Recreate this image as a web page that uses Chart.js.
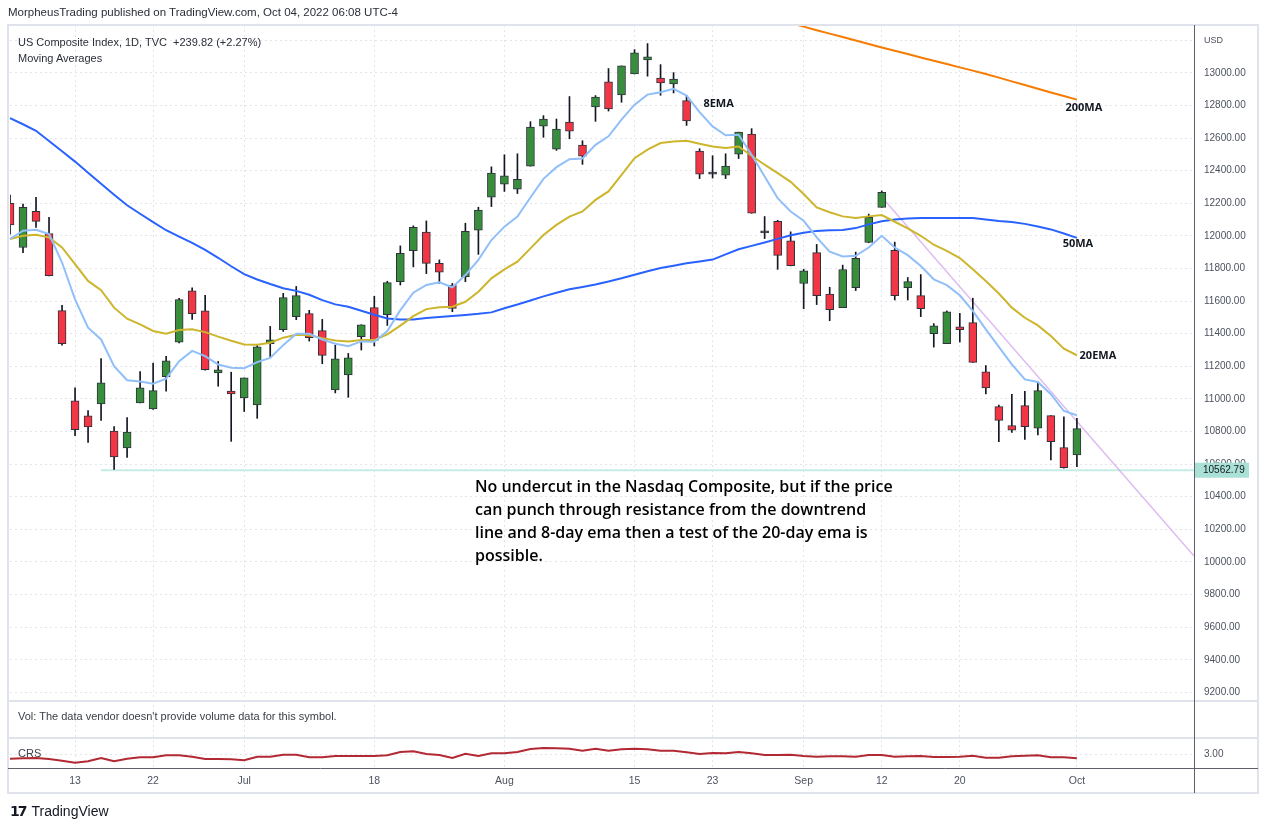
<!DOCTYPE html>
<html>
<head>
<meta charset="utf-8">
<script src="https://cdn.jsdelivr.net/npm/chart.js@4.4.1/dist/chart.umd.min.js"></script>
<style>
  html, body { margin: 0; padding: 0; background: #fff; }
  #wrap { position: relative; width: 1264px; height: 829px; overflow: hidden;
          font-family: "Liberation Sans", Arial, sans-serif; color: #131722; }
  #chart { position: absolute; left: 0; top: 0; }
  .txt { position: absolute; white-space: nowrap; font-size: 11px; line-height: 14px; }
  #published { left: 8px; top: 5px; font-size: 11.5px; color: #2a2e39; }
  #legend1 { left: 18px; top: 35px; color: #2a2e39; }
  #legend2 { left: 18px; top: 51px; color: #2a2e39; }
  #volText { left: 18px; top: 709px; color: #3d4049; }
  #crsText { left: 18px; top: 746px; color: #3d4049; }
  #note { left: 475px; top: 475px; font-family: "Open Sans", sans-serif; font-weight: 600;
          font-size: 16px; line-height: 23px; color: #000; white-space: normal; width: 450px; }
  #logo { left: 10px; top: 802px; font-size: 14px; line-height: 18px; color: #131722; }
  #logo b { font-family: "DejaVu Sans", sans-serif; font-weight: 900; letter-spacing: -2px; margin-right: 6px; }
</style>
</head>
<body>
<div id="wrap">
  <canvas id="chart" width="1264" height="829"></canvas>
  <div class="txt" id="published">MorpheusTrading published on TradingView.com, Oct 04, 2022 06:08 UTC-4</div>
  <div class="txt" id="legend1">US Composite Index, 1D, TVC&nbsp; +239.82 (+2.27%)</div>
  <div class="txt" id="legend2">Moving Averages</div>
  <div class="txt" id="volText">Vol: The data vendor doesn't provide volume data for this symbol.</div>
  <div class="txt" id="crsText">CRS</div>
  <div class="txt" id="note">No undercut in the Nasdaq Composite, but if the price<br>can punch through resistance from the downtrend<br>line and 8-day ema then a test of the 20-day ema is<br>possible.</div>
  <div class="txt" id="logo"><b>17</b>TradingView</div>
</div>
<script>
// ===== Data =====
const dates = [
  '2022-06-06','2022-06-07','2022-06-08','2022-06-09','2022-06-10','2022-06-13','2022-06-14','2022-06-15','2022-06-16','2022-06-17',
  '2022-06-21','2022-06-22','2022-06-23','2022-06-24','2022-06-27','2022-06-28','2022-06-29','2022-06-30','2022-07-01','2022-07-05',
  '2022-07-06','2022-07-07','2022-07-08','2022-07-11','2022-07-12','2022-07-13','2022-07-14','2022-07-15','2022-07-18','2022-07-19',
  '2022-07-20','2022-07-21','2022-07-22','2022-07-25','2022-07-26','2022-07-27','2022-07-28','2022-07-29','2022-08-01','2022-08-02',
  '2022-08-03','2022-08-04','2022-08-05','2022-08-08','2022-08-09','2022-08-10','2022-08-11','2022-08-12','2022-08-15','2022-08-16',
  '2022-08-17','2022-08-18','2022-08-19','2022-08-22','2022-08-23','2022-08-24','2022-08-25','2022-08-26','2022-08-29','2022-08-30',
  '2022-08-31','2022-09-01','2022-09-02','2022-09-06','2022-09-07','2022-09-08','2022-09-09','2022-09-12','2022-09-13','2022-09-14',
  '2022-09-15','2022-09-16','2022-09-19','2022-09-20','2022-09-21','2022-09-22','2022-09-23','2022-09-26','2022-09-27','2022-09-28',
  '2022-09-29','2022-09-30','2022-10-03',
  // empty space to the right of the last bar
  '2022-10-04','2022-10-05','2022-10-06','2022-10-07','2022-10-10','2022-10-11','2022-10-12','2022-10-13','2022-10-14'
];

const opens = [12200,11929,12151,12015,11542,10988,10896,10969,10803,10699,
  10976,10939,11136,11349,11664,11540,11160,11049,11006,10963,
  11339,11425,11505,11523,11419,11056,11148,11382,11560,11517,
  11719,11910,12023,11832,11697,11750,12035,12238,12318,12287,
  12428,12674,12533,12699,12557,12791,12945,12865,12994,13080,
  12969,12932,12830,12521,12379,12373,12502,12625,12019,12090,
  11970,11708,11898,11644,11560,11683,11960,12175,11911,11683,
  11634,11400,11339,11443,11468,11166,10953,10837,10959,10820,
  10898,10702,10657];
const highs = [12251,12196,12237,12114,11574,11068,10928,11248,10830,10885,
  11168,11220,11261,11617,11681,11636,11230,11164,11129,11331,
  11445,11648,11690,11544,11488,11330,11279,11455,11630,11722,
  11939,12062,12092,11853,11709,12078,12176,12424,12498,12504,
  12701,12738,12717,12855,12584,12861,13027,13043,13143,13180,
  13051,13002,12861,12535,12492,12504,12637,12658,12119,12096,
  12025,11796,11948,11685,11821,11901,12134,12276,11962,11745,
  11763,11462,11540,11525,11618,11205,10963,11029,11047,11104,
  10898,10890,10881];
const lows = [12011,11898,12052,11755,11330,10774,10734,10869,10567,10641,
  10976,10935,11047,11343,11488,11177,11078,10740,10923,10881,
  11257,11414,11486,11355,11216,11037,11010,11300,11325,11451,
  11699,11810,11769,11709,11535,11719,11887,12180,12273,12260,
  12428,12605,12525,12596,12439,12703,12766,12820,12994,12980,
  12863,12877,12678,12352,12355,12352,12475,12139,11984,11795,
  11816,11554,11579,11480,11560,11665,11958,12175,11607,11607,
  11505,11318,11339,11349,11224,11031,10738,10794,10751,10779,
  10626,10575,10585];
const closes = [12067,12175,12089,11757,11339,10811,10828,11099,10645,10797,
  11068,11051,11234,11609,11523,11179,11179,11031,11129,11320,
  11363,11622,11634,11376,11267,11246,11252,11455,11359,11714,
  11893,12053,11832,11777,11555,12029,12158,12385,12369,12348,
  12668,12717,12656,12643,12490,12852,12779,13043,13123,13098,
  12939,12963,12705,12379,12379,12428,12637,12139,12019,11881,
  11818,11786,11634,11548,11794,11862,12114,12268,11634,11720,
  11554,11449,11535,11425,11224,11068,10869,10808,10830,11051,
  10738,10579,10818];

const ema8 = [11981,12032,12038,12011,11837,11611,11437,11365,11201,11115,
  11107,11094,11125,11232,11295,11263,11211,11191,11189,11226,
  11252,11330,11400,11400,11365,11339,11324,11353,11351,11417,
  11545,11652,11699,11715,11685,11760,11853,11975,12057,12119,
  12236,12350,12422,12471,12475,12559,12611,12713,12805,12867,
  12881,12902,12861,12760,12672,12617,12621,12498,12365,12232,
  12150,12093,11991,11903,11874,11878,11929,12001,11929,11882,
  11816,11734,11698,11636,11540,11427,11320,11212,11120,11104,
  11029,10926,10900];
const ema20 = [11981,12001,12007,11991,11929,11827,11724,11667,11560,11492,
  11458,11417,11400,11423,11427,11410,11382,11357,11334,11332,
  11345,11376,11394,11390,11373,11359,11353,11361,11361,11396,
  11450,11508,11551,11562,11566,11596,11658,11740,11795,11842,
  11924,12006,12068,12119,12150,12221,12273,12375,12477,12529,
  12570,12580,12584,12566,12549,12539,12549,12492,12437,12385,
  12332,12257,12175,12145,12120,12110,12120,12128,12087,12046,
  12001,11946,11909,11864,11796,11724,11647,11560,11498,11451,
  11386,11308,11268];
const ma50 = [12723,12685,12645,12582,12519,12456,12388,12320,12253,12188,
  12136,12085,12035,11996,11957,11914,11866,11814,11766,11733,
  11705,11679,11663,11639,11606,11580,11566,11541,11517,11493,
  11487,11487,11496,11503,11509,11515,11522,11531,11556,11579,
  11604,11629,11651,11673,11687,11702,11720,11740,11762,11783,
  11803,11817,11832,11843,11855,11887,11918,11939,11960,11982,
  12004,12020,12031,12035,12037,12048,12071,12090,12101,12107,
  12110,12110,12110,12110,12110,12101,12092,12086,12074,12058,
  12040,12015,11988];
// 200MA is above the visible range before the end of August
const ma200 = Array(59).fill(null).concat([13326,13305,13284,13262,13241,13220,13199,13177,13156,13136,
  13116,13095,13075,13055,13034,13014,12993,12971,12948,12926,
  12903,12880,12858,12836]);

const crs = [2.953,2.957,2.960,2.950,2.933,2.913,2.927,2.960,2.927,2.953,
  2.967,2.967,2.987,2.987,2.973,2.950,2.950,2.947,2.937,2.973,
  2.973,2.993,2.993,2.967,2.967,2.980,2.980,2.980,2.980,2.987,
  3.020,3.027,3.000,2.990,2.960,3.003,2.980,3.007,3.007,3.020,
  3.050,3.060,3.057,3.053,3.033,3.053,3.033,3.047,3.053,3.047,
  3.033,3.033,3.017,3.000,3.010,3.007,3.020,3.007,2.990,2.990,
  2.993,2.980,2.973,2.977,2.977,2.973,2.990,2.990,2.973,2.977,
  2.980,2.970,2.970,2.973,2.983,2.963,2.963,2.977,2.983,2.987,
  2.967,2.967,2.957];

// drawn lines: downtrend line (two anchors) and horizontal support
const trendIdx = [67, 91];
const trendVal = [12239, 10037];
const supportLevel = 10562.79;
const supportStart = 7;

// axis ticks
const priceTicks = [9200,9400,9600,9800,10000,10200,10400,10600,10800,11000,11200,11400,
  11600,11800,12000,12200,12400,12600,12800,13000,13200];
const crsTicks = [3];
const tickDates = ['2022-06-13','2022-06-22','2022-07-01','2022-07-18','2022-08-01','2022-08-15',
  '2022-08-23','2022-09-01','2022-09-12','2022-09-20','2022-10-03'];
const tickTexts = ['13','22','Jul','18','Aug','15','23','Sep','12','20','Oct'];

// MA labels on the chart
const maLabelTexts = ['8EMA','200MA','50MA','20EMA'];
const maLabelIdx = [54, 82, 82, 82];
const maLabelPrices = [12810, 12785, 11951, 11264];
const maLabelShift = [6, 7, 1, 21];

// ===== Build datasets =====
const GREEN = '#388e3c', RED = '#f23645', DOJI = '#2a2e39';
const bodyColors = opens.map((o, i) => closes[i] > o ? GREEN : (closes[i] < o ? RED : DOJI));
const bodies = opens.map((o, i) => [o, closes[i]]);
const wicks = lows.map((l, i) => [l, highs[i]]);
const trendData = dates.map((d, i) => {
  const k = trendIdx.indexOf(i);
  return k >= 0 ? trendVal[k] : null;
});
const supportData = dates.map((d, i) => i >= supportStart ? supportLevel : null);

const lineDs = (data, color, extra) => Object.assign({
  type: 'line', data, borderColor: color, borderWidth: 2, pointRadius: 0,
  tension: 0, fill: false, yAxisID: 'y', order: 0
}, extra || {});

Chart.defaults.font.family = '"Liberation Sans", Arial, sans-serif';
const tickFont = { size: 10 };
const tickColor = '#4c525e';
const gridColor = '#e3e5ea';

// ===== Pane decorations =====
const paneDecor = {
  id: 'paneDecor',
  beforeDraw(chart) {
    const c = chart.ctx;
    c.save();
    c.fillStyle = '#fff';
    c.fillRect(0, 0, chart.width, chart.height);
    c.restore();
  },
  afterDraw(chart) {
    const { ctx: c, chartArea: a, scales: s } = chart;
    const frameL = a.left - 2, frameR = a.right + 64, frameB = a.bottom + 25;
    c.save();
    // separators between panes
    c.strokeStyle = '#e0e3eb';
    c.lineWidth = 2;
    [s.y.bottom, s.yVol.bottom].forEach(yy => {
      c.beginPath(); c.moveTo(frameL, yy); c.lineTo(frameR, yy); c.stroke();
    });
    c.strokeRect(frameL, a.top, frameR - frameL, frameB - a.top);
    // axis lines
    c.strokeStyle = '#5d606b';
    c.lineWidth = 1;
    c.beginPath(); c.moveTo(a.right + 0.5, a.top); c.lineTo(a.right + 0.5, frameB); c.stroke();
    c.beginPath(); c.moveTo(frameL, a.bottom + 0.5); c.lineTo(frameR, a.bottom + 0.5); c.stroke();
    // currency label
    c.fillStyle = tickColor;
    c.font = '9px "Liberation Sans", Arial, sans-serif';
    c.textBaseline = 'middle';
    c.textAlign = 'left';
    c.fillText('USD', a.right + 10, s.y.getPixelForValue(13200));
    // support price label
    const py = s.y.getPixelForValue(supportLevel);
    c.fillStyle = '#a9e1d6';
    c.fillRect(a.right + 1, py - 7.5, 54, 15);
    c.fillStyle = '#131722';
    c.font = '10px "Liberation Sans", Arial, sans-serif';
    c.fillText(supportLevel.toFixed(2), a.right + 9, py + 0.5);
    // MA labels
    c.font = 'bold 11px "Open Sans", sans-serif';
    c.textAlign = 'center';
    c.fillStyle = '#131722';
    maLabelTexts.forEach((t, i) => {
      c.fillText(t, s.x.getPixelForValue(maLabelIdx[i]) + maLabelShift[i], s.y.getPixelForValue(maLabelPrices[i]));
    });
    c.restore();
  }
};

// ===== Chart =====
const ctx = document.getElementById('chart').getContext('2d');
const chart = new Chart(ctx, {
  type: 'bar',
  data: {
    labels: dates,
    datasets: [
      lineDs(ema8, '#90bff9'),
      lineDs(ema20, '#cdb52c'),
      lineDs(ma50, '#2962ff'),
      lineDs(ma200, '#f57c00'),
      lineDs(crs, '#b22833', { yAxisID: 'yCrs' }),
      {
        type: 'bar', data: bodies, backgroundColor: bodyColors, borderColor: '#2e323c',
        borderWidth: 1, borderSkipped: false, barThickness: 8, minBarLength: 2,
        grouped: false, yAxisID: 'y', order: 1
      },
      {
        type: 'bar', data: wicks, backgroundColor: '#131722', borderWidth: 0,
        barThickness: 1, grouped: false, yAxisID: 'y', order: 2
      },
      lineDs(trendData, 'rgba(206,160,235,0.7)', { borderWidth: 1.5, spanGaps: true, order: 3 }),
      lineDs(supportData, '#c6ece5', { order: 3 })
    ]
  },
  options: {
    responsive: false,
    animation: false,
    events: [],
    layout: { padding: { left: 10, top: 25, right: 6, bottom: 36 } },
    plugins: { legend: { display: false }, tooltip: { enabled: false } },
    scales: {
      x: {
        type: 'category',
        offset: false,
        grid: { color: gridColor, offset: false, drawTicks: false },
        border: { display: false, dash: [2, 3] },
        ticks: {
          autoSkip: false, maxRotation: 0, padding: 7, color: tickColor, font: { size: 10.5 },
          callback: v => tickTexts[tickDates.indexOf(dates[v])]
        },
        afterBuildTicks: sc => { sc.ticks = tickDates.map(d => ({ value: dates.indexOf(d) })); },
        afterFit: sc => { sc.height = 25; }
      },
      y: {
        position: 'right', stack: 'panes', stackWeight: 676,
        min: 9147, max: 13294,
        grid: { color: gridColor, drawTicks: false },
        border: { display: false, dash: [2, 3] },
        ticks: {
          padding: 10, color: tickColor, font: tickFont,
          callback: v => v === 13200 ? '' : v.toFixed(2)
        },
        afterBuildTicks: sc => { sc.ticks = priceTicks.map(v => ({ value: v })); },
        afterFit: sc => { sc.width = 64; }
      },
      yVol: {
        position: 'right', stack: 'panes', stackWeight: 37,
        min: 0, max: 1,
        grid: { display: false },
        border: { display: false },
        ticks: { display: false },
        afterBuildTicks: sc => { sc.ticks = []; },
        afterFit: sc => { sc.width = 64; }
      },
      yCrs: {
        position: 'right', stack: 'panes', stackWeight: 30,
        min: 2.86, max: 3.16,
        grid: { color: gridColor, drawTicks: false },
        border: { display: false, dash: [2, 3] },
        ticks: { padding: 10, color: tickColor, font: tickFont, callback: v => v.toFixed(2) },
        afterBuildTicks: sc => { sc.ticks = crsTicks.map(v => ({ value: v })); },
        afterFit: sc => { sc.width = 64; }
      }
    }
  },
  plugins: [paneDecor]
});
</script>
</body>
</html>
